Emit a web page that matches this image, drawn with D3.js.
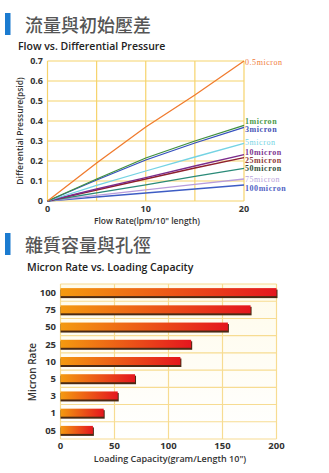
<!DOCTYPE html>
<html>
<head>
<meta charset="utf-8">
<script src="https://cdn.jsdelivr.net/npm/d3@7"></script>
<style>
  body { margin: 0; background: #fff; }
  svg { display: block; }
  text { font-family: "Open Sans", "Noto Sans", sans-serif; }
</style>
</head>
<body>
<svg id="chart" width="329" height="473"></svg>
<script>
// ---- data: flow vs differential pressure ----
var flowX = [0, 5, 10, 15, 20];
var seriesNames = ["0.5micron", "1micron", "3micron", "5micron", "10micron", "25micron", "50micron", "75micron", "100micron"];
var p05 = [0, 0.19, 0.37, 0.53, 0.70];
var p1 = [0, 0.11, 0.215, 0.30, 0.378];
var p3 = [0, 0.105, 0.205, 0.29, 0.368];
var p5 = [0, 0.078, 0.15, 0.22, 0.288];
var p10 = [0, 0.06, 0.117, 0.175, 0.232];
var p25 = [0, 0.055, 0.11, 0.165, 0.217];
var p50 = [0, 0.041, 0.081, 0.123, 0.163];
var p75 = [0, 0.028, 0.056, 0.083, 0.11];
var p100 = [0, 0.02, 0.04, 0.06, 0.08];
var yTicks1 = [0, 0.1, 0.2, 0.3, 0.4, 0.5, 0.6, 0.7];
var xTicks1 = [0, 10, 20];

// ---- data: micron rate vs loading capacity ----
var micronCats = ["100", "75", "50", "25", "10", "5", "3", "1", "05"];
var loadValues = [200, 176, 155, 121, 111, 69, 53, 40, 30];
var xTicks2 = [0, 50, 100, 150, 200];

var lineColors = ["#f07b2e", "#3f8f3f", "#3450bf", "#74d3e3", "#7a2c8c", "#8e1f2d", "#2a8a78", "#b89cdb", "#3d5cc4"];
var labelColors = ["#f07b3a", "#4a9a48", "#4552b5", "#74d3e3", "#7d3590", "#8e3a3a", "#34503a", "#b8a2da", "#5263c4"];
var labelY = [62, 121.5, 129, 142, 152.5, 160, 168, 179, 188];
var gridColor = "#f6d36c";

var svg = d3.select("#chart");

function heading(y, zh, en) {
  svg.append("rect").attr("x", 5).attr("y", y).attr("width", 5.5).attr("height", 22).attr("fill", "#1b7bd0");
  svg.append("text").attr("x", 25).attr("y", y + 18.5)
    .style("font-family", "'Noto Sans CJK TC', sans-serif")
    .style("font-size", "18px").style("font-weight", 500)
    .attr("fill", "#555").text(zh);
  svg.append("text").attr("x", en.x).attr("y", y + en.dy)
    .style("font-size", "10.5px").style("font-weight", 600)
    .attr("fill", "#222").text(en.t);
}

heading(13, "流量與初始壓差", {x: 18, dy: 37, t: "Flow vs. Differential Pressure"});
heading(233, "雜質容量與孔徑", {x: 27, dy: 38, t: "Micron Rate vs. Loading Capacity"});

// ---- chart 1 ----
var x1 = d3.scaleLinear().domain([0, 20]).range([47.5, 244]);
var y1 = d3.scaleLinear().domain([0, 0.7]).range([201, 61]);

var g1 = svg.append("g");

g1.selectAll(".vgrid").data(d3.range(0, 21, 5)).enter()
  .append("line")
  .attr("x1", d => x1(d)).attr("x2", d => x1(d))
  .attr("y1", y1(0)).attr("y2", y1(0.7))
  .attr("stroke", gridColor).attr("stroke-width", 1.2);

g1.selectAll(".hgrid").data(yTicks1).enter()
  .append("line")
  .attr("x1", x1(0)).attr("x2", x1(20))
  .attr("y1", d => y1(d)).attr("y2", d => y1(d))
  .attr("stroke", gridColor).attr("stroke-width", 1.2);

var series = [p05, p1, p3, p5, p10, p25, p50, p75, p100];
var line = d3.line().x((d, i) => x1(flowX[i])).y(d => y1(d));

// draw bottom series first so top ones overlay
for (var i = series.length - 1; i >= 0; i--) {
  g1.append("path").datum(series[i])
    .attr("d", line)
    .attr("fill", "none")
    .attr("stroke", lineColors[i])
    .attr("stroke-width", 1.3);
}

g1.selectAll(".slabel").data(seriesNames).enter()
  .append("text")
  .attr("x", 245).attr("y", (d, i) => labelY[i])
  .attr("dy", "0.33em")
  .style("font-family", "'Liberation Serif', serif")
  .style("font-size", "8px")
  .style("letter-spacing", "0.55px")
  .style("font-weight", (d, i) => (i == 0 || i == 3 || i == 7) ? 400 : 700)
  .attr("fill", (d, i) => labelColors[i])
  .text(d => d);

g1.selectAll(".ytick").data(yTicks1).enter()
  .append("text")
  .attr("x", 43).attr("y", d => y1(d)).attr("dy", "0.35em")
  .attr("text-anchor", "end")
  .style("font-size", "9px").style("font-weight", 700).attr("fill", "#333")
  .text(d => d);

g1.selectAll(".xtick").data(xTicks1).enter()
  .append("text")
  .attr("x", d => x1(d)).attr("y", 212)
  .attr("text-anchor", "middle")
  .style("font-size", "9px").style("font-weight", 700).attr("fill", "#333")
  .text(d => d);

g1.append("text")
  .attr("x", 147).attr("y", 224)
  .attr("text-anchor", "middle")
  .style("font-size", "8.5px").style("font-weight", 600).attr("fill", "#333")
  .text('Flow Rate(lpm/10" length)');

g1.append("text")
  .attr("transform", "translate(23,131) rotate(-90)")
  .attr("text-anchor", "middle")
  .style("font-size", "8.5px").style("font-weight", 600).attr("fill", "#333")
  .text("Differential Pressure(psid)");

// ---- chart 2 ----
var x2 = d3.scaleLinear().domain([0, 200]).range([60.5, 276.5]);
var y2 = d3.scaleBand().domain(micronCats).range([284, 439]).paddingInner(0).paddingOuter(0);

var defs = svg.append("defs");
var grad = defs.append("linearGradient").attr("id", "barGrad")
  .attr("x1", "0%").attr("x2", "100%").attr("y1", "0%").attr("y2", "0%");
grad.append("stop").attr("offset", "0%").attr("stop-color", "#f49a10");
grad.append("stop").attr("offset", "100%").attr("stop-color", "#e4161e");

var bgGrad = defs.append("linearGradient").attr("id", "bgGrad")
  .attr("x1", "0%").attr("x2", "0%").attr("y1", "0%").attr("y2", "100%");
bgGrad.append("stop").attr("offset", "0%").attr("stop-color", "#fffbea");
bgGrad.append("stop").attr("offset", "100%").attr("stop-color", "#ffffff");

var g2 = svg.append("g");

g2.append("rect")
  .attr("x", x2(0)).attr("y", 284)
  .attr("width", x2(200) - x2(0)).attr("height", 155)
  .attr("fill", "url(#bgGrad)");

g2.selectAll(".vgrid2").data(xTicks2).enter()
  .append("line")
  .attr("x1", d => x2(d)).attr("x2", d => x2(d))
  .attr("y1", 284).attr("y2", 439)
  .attr("stroke", "#f7dc92").attr("stroke-width", 1.2);

g2.selectAll(".hgrid2").data(micronCats).enter()
  .append("line")
  .attr("x1", x2(0)).attr("x2", x2(200))
  .attr("y1", d => y2(d)).attr("y2", d => y2(d))
  .attr("stroke", "#f7dc92").attr("stroke-width", 1.1);

g2.append("line")
  .attr("x1", x2(0)).attr("x2", x2(200))
  .attr("y1", 439).attr("y2", 439)
  .attr("stroke", "#f7dc92").attr("stroke-width", 1.2);

var bars = g2.selectAll(".bar").data(micronCats).enter().append("g");

bars.append("rect")
  .attr("x", x2(0))
  .attr("y", d => y2(d) + y2.bandwidth() / 2 - 3)
  .attr("width", (d, i) => x2(loadValues[i]) - x2(0) + 1)
  .attr("height", 8.5)
  .attr("fill", "#4a2a14");

bars.append("rect")
  .attr("x", x2(0))
  .attr("y", d => y2(d) + y2.bandwidth() / 2 - 4.5)
  .attr("width", (d, i) => x2(loadValues[i]) - x2(0))
  .attr("height", 8)
  .attr("fill", "url(#barGrad)");

g2.selectAll(".ytick2").data(micronCats).enter()
  .append("text")
  .attr("x", 56).attr("y", d => y2(d) + y2.bandwidth() / 2).attr("dy", "0.35em")
  .attr("text-anchor", "end")
  .style("font-size", "9.5px").style("font-weight", 700).attr("fill", "#333")
  .text(d => d);

g2.selectAll(".xtick2").data(xTicks2).enter()
  .append("text")
  .attr("x", d => x2(d)).attr("y", 449)
  .attr("text-anchor", "middle")
  .style("font-size", "9.5px").style("font-weight", 700).attr("fill", "#333")
  .text(d => d);

g2.append("text")
  .attr("x", 170).attr("y", 462)
  .attr("text-anchor", "middle")
  .style("font-size", "9px").style("font-weight", 600).attr("fill", "#333")
  .text('Loading Capacity(gram/Length 10")');

g2.append("text")
  .attr("transform", "translate(36,372) rotate(-90)")
  .attr("text-anchor", "middle")
  .style("font-size", "10px").style("font-weight", 600).attr("fill", "#333")
  .text("Micron Rate");
</script>
</body>
</html>
